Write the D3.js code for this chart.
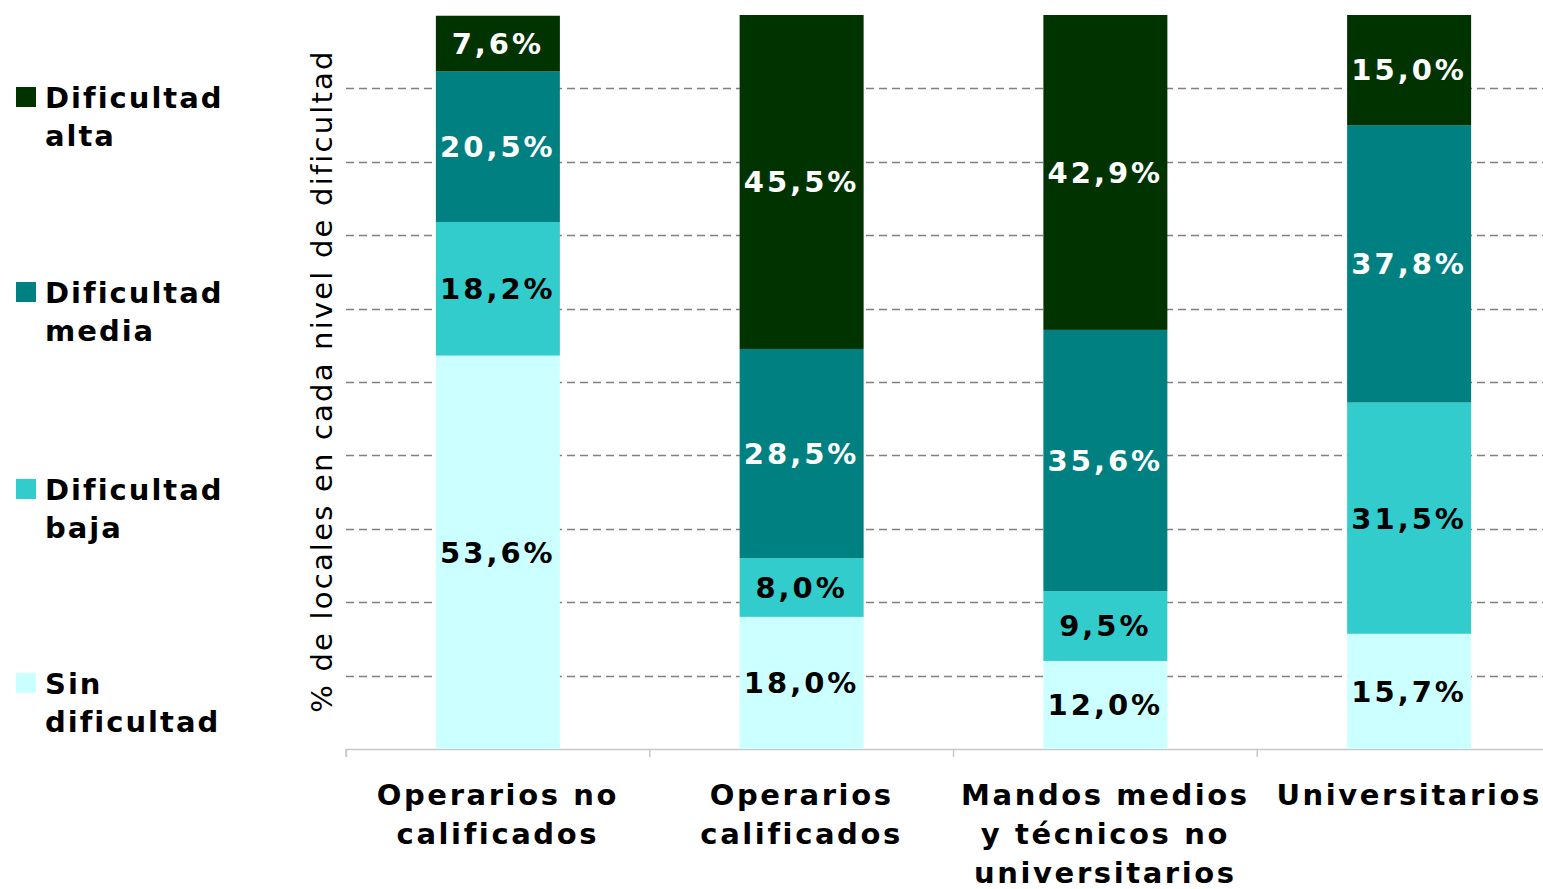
<!DOCTYPE html>
<html>
<head>
<meta charset="utf-8">
<script src="https://cdn.jsdelivr.net/npm/d3@7"></script>
<style>
  html, body { margin: 0; padding: 0; background: #fff; }
  svg { display: block; }
</style>
</head>
<body>
<svg id="chart" width="1543" height="889"></svg>
<script>
const categories = [
  ["Operarios no", "calificados"],
  ["Operarios", "calificados"],
  ["Mandos medios", "y técnicos no", "universitarios"],
  ["Universitarios"]
];
const seriesNames = [["Sin", "dificultad"], ["Dificultad", "baja"], ["Dificultad", "media"], ["Dificultad", "alta"]];
const seriesColors = ["#CCFFFF", "#33CCCC", "#008080", "#003300"];
const labelColors = ["#000000", "#000000", "#FFFFFF", "#FFFFFF"];
const sinDificultad = [53.6, 18.0, 12.0, 15.7];
const dificultadBaja = [18.2, 8.0, 9.5, 31.5];
const dificultadMedia = [20.5, 28.5, 35.6, 37.8];
const dificultadAlta = [7.6, 45.5, 42.9, 15.0];
const gridTicks = [10, 20, 30, 40, 50, 60, 70, 80, 90];
const yTitle = "% de locales en cada nivel de dificultad";

const series = [sinDificultad, dificultadBaja, dificultadMedia, dificultadAlta];
const data = categories.map((c, i) => {
  const row = { idx: i };
  series.forEach((s, k) => row["s" + k] = s[i]);
  return row;
});
const keys = ["s0", "s1", "s2", "s3"];

const svg = d3.select("#chart");
const mLeft = 346, mRight = 1561, mTop = 15, mBottom = 749;

const x = d3.scaleBand().domain(d3.range(categories.length)).range([mLeft, mRight]).paddingInner(0).paddingOuter(0);
const barW = 124;
const y = d3.scaleLinear().domain([0, 100]).range([mBottom, mTop]);

// gridlines
svg.append("g").selectAll("line").data(gridTicks).join("line")
  .attr("x1", mLeft).attr("x2", mRight)
  .attr("y1", d => Math.round(y(d)) + 0.5).attr("y2", d => Math.round(y(d)) + 0.5)
  .attr("stroke", "#808080").attr("stroke-width", 1.3).attr("stroke-dasharray", "8,5");

// axis
const xAxis = d3.axisBottom(x).tickSize(8).tickFormat("");
const gx = svg.append("g").attr("transform", `translate(0,${mBottom})`).call(xAxis);
gx.select(".domain").attr("stroke", "#c8c8c8").attr("stroke-width", 1.5);
gx.selectAll(".tick").remove();
const boundaries = d3.range(categories.length).map(i => x(i));
gx.selectAll(".bt").data(boundaries).join("line")
  .attr("x1", d => d).attr("x2", d => d).attr("y1", 0).attr("y2", 8)
  .attr("stroke", "#c8c8c8").attr("stroke-width", 1.5);

// stacked bars
const stack = d3.stack().keys(keys)(data);
const layers = svg.append("g").selectAll("g").data(stack).join("g")
  .attr("fill", (d, k) => seriesColors[k]);
layers.selectAll("rect").data(d => d).join("rect")
  .attr("x", d => x(d.data.idx) + x.bandwidth() / 2 - barW / 2)
  .attr("width", barW)
  .attr("y", d => y(d[1]))
  .attr("height", d => y(d[0]) - y(d[1]));

// value labels
const fmt = v => v.toFixed(1).replace(".", ",") + "%";
stack.forEach((layer, k) => {
  svg.append("g").selectAll("text").data(layer).join("text")
    .attr("x", d => x(d.data.idx) + x.bandwidth() / 2)
    .attr("y", d => (y(d[0]) + y(d[1])) / 2)
    .attr("dy", "0.36em")
    .attr("text-anchor", "middle")
    .attr("font-family", "DejaVu Sans, Verdana, sans-serif")
    .attr("font-weight", "bold")
    .attr("font-size", 29)
    .attr("letter-spacing", 3)
    .attr("fill", labelColors[k])
    .text(d => fmt(d[1] - d[0]));
});

// x category labels
const xl = svg.append("g").selectAll("text").data(categories).join("text")
  .attr("text-anchor", "middle")
  .attr("font-family", "DejaVu Sans, Verdana, sans-serif")
  .attr("font-weight", "bold")
  .attr("font-size", 29)
  .attr("letter-spacing", 2.6)
  .attr("fill", "#000");
xl.each(function(lines, i) {
  d3.select(this).selectAll("tspan").data(lines).join("tspan")
    .attr("x", x(i) + x.bandwidth() / 2)
    .attr("y", (d, j) => 805 + j * 39)
    .text(d => d);
});

// y title
svg.append("text")
  .attr("transform", `translate(332,381) rotate(-90)`)
  .attr("text-anchor", "middle")
  .attr("font-family", "DejaVu Sans, Verdana, sans-serif")
  .attr("font-size", 29)
  .attr("letter-spacing", 2.2)
  .attr("fill", "#000")
  .text(yTitle);

// legend (top to bottom: alta, media, baja, sin)
const legendY = [97, 292, 489, 683];
const legendOrder = [3, 2, 1, 0];
const lg = svg.append("g").selectAll("g").data(legendOrder).join("g")
  .attr("transform", (k, i) => `translate(0,${legendY[i]})`);
lg.append("rect").attr("x", 16).attr("y", -10).attr("width", 20).attr("height", 20)
  .attr("fill", k => seriesColors[k]);
lg.append("text")
  .attr("font-family", "DejaVu Sans, Verdana, sans-serif")
  .attr("font-weight", "bold")
  .attr("font-size", 29)
  .attr("letter-spacing", 2)
  .attr("fill", "#000")
  .each(function(k) {
    d3.select(this).selectAll("tspan").data(seriesNames[k]).join("tspan")
      .attr("x", 45)
      .attr("y", (d, j) => 11 + j * 38)
      .text(d => d);
  });
</script>
</body>
</html>
